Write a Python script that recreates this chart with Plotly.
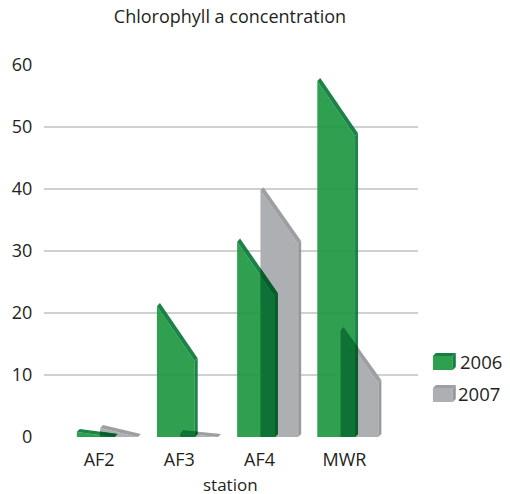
import plotly.graph_objects as go

# ---- data ----
categories = ["AF2", "AF3", "AF4", "MWR"]
series_names = ["2006", "2007"]
top_left_2006 = [0.8, 21.1, 31.5, 57.4]
top_right_2006 = [0.0, 12.2, 22.7, 48.5]
top_left_2007 = [1.45, 0.6, 39.8, 17.2]
top_right_2007 = [0.0, 0.0, 31.1, 8.7]
y_ticks = [0, 10, 20, 30, 40, 50, 60]
x_label_pos = [0, 1, 2, 3.06]

# ---- style ----
W, H = 510, 494
L, R, T, B = 42, 92, 65, 57
X_RANGE = [-0.688, 3.977]
BAR_W = 0.471
DEPTH_X = 0.037
DEPTH_Y = 0.5
OFFSET = {"2006": -0.279, "2007": 0.012}
FONT = "Open Sans"
TEXT = "#231f20"
COL = {
    "2006": {"front": (30, 153, 67), "top": (10, 122, 58), "side": (10, 122, 58)},
    "2007": {"front": (174, 175, 178), "top": (158, 159, 162), "side": (152, 153, 156)},
}
LEG = {
    "2006": {"front": (46, 160, 80), "top": (22, 128, 66), "side": (22, 128, 66)},
    "2007": COL["2007"],
}
OVER = {"front": (14, 113, 54), "top": (8, 92, 42), "side": (8, 92, 42)}


def faces(i, name, left, right):
    x0 = i + OFFSET[name]
    x1 = x0 + BAR_W
    dx, dy = DEPTH_X, DEPTH_Y
    return {
        "front": [(x0, 0), (x1, 0), (x1, right), (x0, left)],
        "top": [(x0, left), (x1, right), (x1 + dx, right + dy), (x0 + dx, left + dy)],
        "side": [(x1, 0), (x1 + dx, dy), (x1 + dx, right + dy), (x1, right)],
    }


def clip(subject, clipper):
    """Sutherland-Hodgman clip of a convex polygon by a convex polygon."""
    def area(p):
        return sum(p[k][0] * p[(k + 1) % len(p)][1] - p[(k + 1) % len(p)][0] * p[k][1] for k in range(len(p)))

    if area(clipper) < 0:
        clipper = clipper[::-1]
    out = subject
    for k in range(len(clipper)):
        a, b = clipper[k], clipper[(k + 1) % len(clipper)]

        def side(p):
            return (b[0] - a[0]) * (p[1] - a[1]) - (b[1] - a[1]) * (p[0] - a[0])

        res = []
        for j in range(len(out)):
            p, q = out[j], out[(j + 1) % len(out)]
            sp, sq = side(p), side(q)
            if sp >= 0:
                res.append(p)
            if (sp > 0 and sq < 0) or (sp < 0 and sq > 0):
                t = sp / (sp - sq)
                res.append((p[0] + t * (q[0] - p[0]), p[1] + t * (q[1] - p[1])))
        out = res
        if not out:
            return []
    return out


def rgb(c, a=1):
    return f"rgba({c[0]},{c[1]},{c[2]},{a})"


fig = go.Figure()


def poly(pts, color, name):
    if len(pts) < 3:
        return
    fig.add_trace(go.Scatter(
        x=[p[0] for p in pts] + [pts[0][0]],
        y=[p[1] for p in pts] + [pts[0][1]],
        mode="none", fill="toself", fillcolor=color,
        name=name, showlegend=False, hoverinfo="skip",
    ))


for i in range(len(categories)):
    f07 = faces(i, "2007", top_left_2007[i], top_right_2007[i])
    f06 = faces(i, "2006", top_left_2006[i], top_right_2006[i])
    for k in f07:
        poly(f07[k], rgb(COL["2007"][k]), "2007")
    for k in f06:
        poly(f06[k], rgb(COL["2006"][k], 0.93), "2006")
    for ka in f06:
        for kb in f07:
            poly(clip(f06[ka], f07[kb]), rgb(OVER[ka]), "overlap")


def to_paper_x(x):
    return (x - L) / (W - L - R)


def to_paper_y(y):
    return (H - B - y) / (H - T - B)


# legend: extruded swatches + real text
shapes = []


def swatch(x0, y0, name):
    w, h, d = 20, 14, 3
    pieces = [
        ([(x0, y0 + d), (x0 + w, y0 + d), (x0 + w, y0 + d + h), (x0, y0 + d + h)], LEG[name]["front"]),
        ([(x0, y0 + d), (x0 + d, y0), (x0 + w + d, y0), (x0 + w, y0 + d)], LEG[name]["top"]),
        ([(x0 + w, y0 + d), (x0 + w + d, y0), (x0 + w + d, y0 + h), (x0 + w, y0 + d + h)], LEG[name]["side"]),
    ]
    for pts, c in pieces:
        path = "M" + " L".join(f"{to_paper_x(a):.4f},{to_paper_y(b):.4f}" for a, b in pts) + " Z"
        shapes.append(dict(type="path", xref="paper", yref="paper", path=path,
                           fillcolor=rgb(c), line=dict(width=0), layer="above"))


swatch(433, 353, "2006")
swatch(433, 385, "2007")


def label(x, y, text, size, anchor="left", **kw):
    return dict(xref="paper", yref="paper", x=to_paper_x(x), y=to_paper_y(y), xanchor=anchor, yanchor="middle",
                text=text, showarrow=False, font=dict(size=size), borderpad=0, **kw)


fig.update_layout(
    width=W, height=H,
    margin=dict(l=L, r=R, t=T, b=B, pad=0),
    paper_bgcolor="white", plot_bgcolor="white",
    showlegend=False,
    font=dict(family=FONT, size=18, color=TEXT),
    shapes=shapes,
    title=dict(text="Chlorophyll a concentration", x=230 / W, xanchor="center",
               y=1 - 17 / H, yanchor="middle", font=dict(size=18, family=FONT, color=TEXT)),
    xaxis=dict(range=X_RANGE, tickmode="array", tickvals=x_label_pos,
               ticktext=categories, showgrid=False, zeroline=False, showline=False,
               ticks="outside", ticklen=6, tickcolor="rgba(0,0,0,0)"),
    yaxis=dict(range=[0, 60], tickmode="array", tickvals=y_ticks, showgrid=True,
               gridcolor="#d0d0d0", gridwidth=2, zeroline=False, showline=False,
               ticks="outside", ticklen=7, tickcolor="rgba(0,0,0,0)"),
    annotations=[
        label(459.5, 361.5, series_names[0], 18.5),
        label(457.5, 393.5, series_names[1], 18.5),
        label(229, 484, "station", 17, "center", height=18),
    ],
)

fig.write_html("out.html", post_script="document.body.style.margin='0';",
               config={"displayModeBar": False})
